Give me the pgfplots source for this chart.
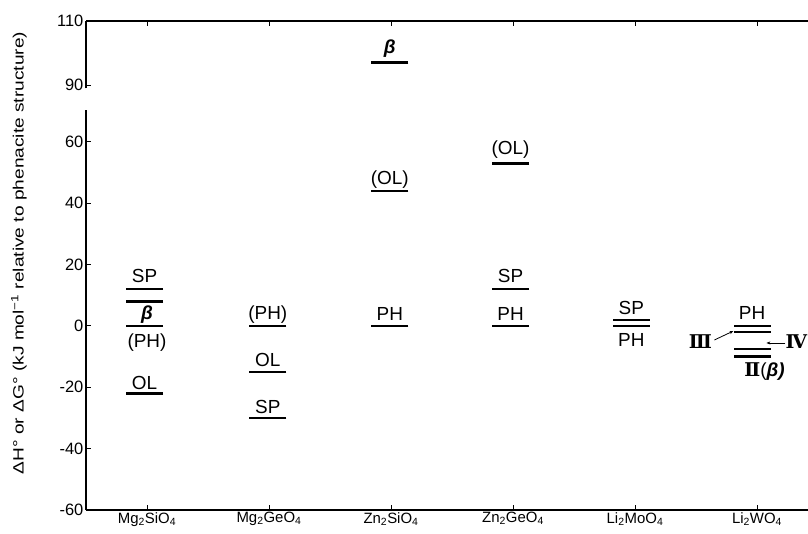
\documentclass[border=0pt]{standalone}
\usepackage{pgfplots}
\pgfplotsset{compat=1.18}
\usepackage{pgfplotstable}
\usepackage{fontspec}
\setmainfont{Liberation Sans}
\newfontfamily\ylfont{Liberation Sans}[FakeStretch=1.28]
\newfontfamily\romfont{DejaVu Serif}
\usetikzlibrary{arrows.meta}

\pgfplotstableread{
x y
-0.02 12
-0.02 8
-0.02 0
-0.02 -22
0.99 0
0.99 -15
0.99 -30
1.99 44
1.99 0
2.98 53
2.98 12
2.98 0
3.97 2
3.97 0
4.96 0
4.96 -2
4.96 -7.5
4.96 -10
}\lowlevels
\pgfplotstableread{
x y
1.99 97
}\uplevels

\newcommand\tlfont{\fontsize{16.5}{16.5}\selectfont}
\tikzset{lab/.style={font=\fontsize{19}{19}\selectfont, inner sep=0pt}}
\pgfplotsset{
 common/.style={scale only axis, width=722bp, xmin=-0.5, xmax=5.418, clip=false,
   axis line style={-, line width=1.4bp},
   tick style={line width=1bp, black}, major tick length=5bp, tick align=inside,
   /pgf/number format/assume math mode=true,
   yticklabel={\tlfont\pgfmathprintnumber[assume math mode=true]{\tick}},
   y tick label style={inner sep=2.5bp},
   xtick={0,...,5}},
 level/.style={only marks, mark=-, mark size=18.6pt, black, mark options={line width=2.4bp}},
}

\begin{document}
\begin{tikzpicture}
\useasboundingbox (0,0) rectangle (808bp,534bp);
\begin{axis}[common, at={(86bp,24bp)}, anchor=south west, height=400bp,
  ymin=-60, ymax=70.4,
  axis x line*=bottom, axis y line*=left, ytick={-60,-40,...,60},
  xticklabels={Mg\textsubscript{2}SiO\textsubscript{4},Mg\textsubscript{2}GeO\textsubscript{4},Zn\textsubscript{2}SiO\textsubscript{4},Zn\textsubscript{2}GeO\textsubscript{4},Li\textsubscript{2}MoO\textsubscript{4},Li\textsubscript{2}WO\textsubscript{4}},
  x tick label style={font=\fontsize{15}{15}\selectfont, inner sep=2bp}]
\addplot[level] table {\lowlevels};
% Mg2SiO4
\node[lab] at (axis cs:-0.02,16.3) {SP};
\node[lab] at (axis cs:0.0,3.6) {\bfseries\itshape β};
\node[lab] at (axis cs:0.0,-5.4) {(PH)};
\node[lab] at (axis cs:-0.02,-18.5) {OL};
% Mg2GeO4
\node[lab] at (axis cs:0.99,3.6) {(PH)};
\node[lab] at (axis cs:0.99,-11.1) {OL};
\node[lab] at (axis cs:0.99,-26.3) {SP};
% Zn2SiO4
\node[lab] at (axis cs:1.99,47.6) {(OL)};
\node[lab] at (axis cs:1.99,3.9) {PH};
% Zn2GeO4
\node[lab] at (axis cs:2.98,57.4) {(OL)};
\node[lab] at (axis cs:2.98,16.3) {SP};
\node[lab] at (axis cs:2.98,3.9) {PH};
% Li2MoO4
\node[lab] at (axis cs:3.97,5.8) {SP};
\node[lab] at (axis cs:3.97,-4.6) {PH};
% Li2WO4
\node[lab] at (axis cs:4.96,4.1) {PH};
\node[lab] at (axis cs:4.536,-5.1) {\romfont\bfseries Ⅲ};
\node[lab] at (axis cs:5.323,-5.1) {\romfont\bfseries Ⅳ};
\node[lab] at (axis cs:5.061,-14.9) {{\romfont\bfseries Ⅱ}(\bfseries\itshape β)};
\draw[-{Stealth[length=4bp,width=3bp]}, line width=0.8bp] (axis cs:4.651,-4.57) -- (axis cs:4.807,-1.64);
\draw[-{Stealth[length=4bp,width=3bp]}, line width=0.8bp] (axis cs:5.233,-5.55) -- (axis cs:5.077,-5.55);
% break cap
\draw[line width=1.4bp] (axis cs:-0.5,70.4) ++(-4bp,0) -- ++(10bp,0);
\end{axis}
\begin{axis}[common, at={(86bp,445.7bp)}, anchor=south west, height=67.3bp,
  ymin=89, ymax=110,
  axis x line*=top, axis y line*=left, ytick={90,110}, xticklabels={}]
\addplot[level] table {\uplevels};
\node[lab] at (axis cs:1.99,101.5) {\bfseries\itshape β};
\end{axis}
\node[rotate=90, font=\ylfont\fontsize{15}{15}\selectfont] at (19bp,281bp)
  {ΔH° or ΔG° (kJ mol\textsuperscript{−1} relative to phenacite structure)};
\end{tikzpicture}
\end{document}
